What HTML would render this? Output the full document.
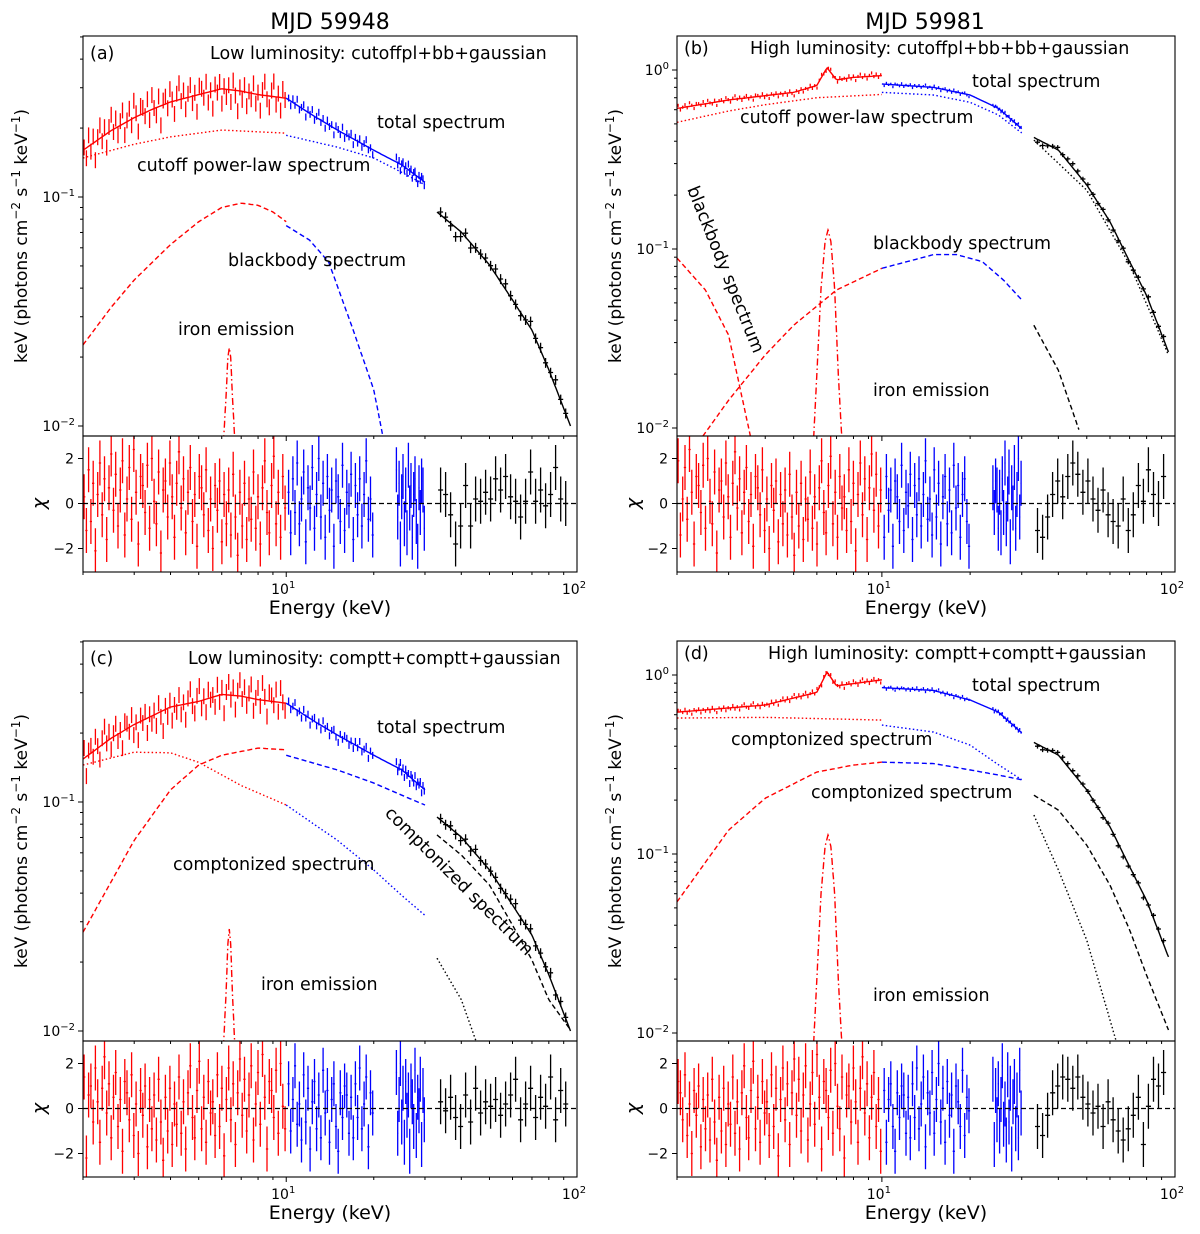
<!DOCTYPE html>
<html><head><meta charset="utf-8">
<style>
html,body{margin:0;padding:0;background:#fff;}
svg{display:block;font-family:"DejaVu Sans","Liberation Sans",sans-serif;}
</style></head>
<body>
<svg id="fig" xmlns="http://www.w3.org/2000/svg" width="1200" height="1234" viewBox="0 0 1200 1234"></svg>
<script>
// ---------- DATA (energy keV, flux) ----------
const A_tot_red=[[2,0.16],[2.5,0.195],[3,0.222],[3.5,0.243],[4,0.26],[5,0.28],[6,0.297],[7,0.29],[8,0.28],[10,0.27]];
const A_tot_blue=[[10,0.27],[12.5,0.225],[15,0.196],[20,0.16],[25,0.138],[30,0.116]];
const A_tot_black=[[33,0.086],[40,0.0703],[50,0.0505],[60,0.0355],[70,0.0262],[80,0.0176],[95,0.01]];
const A_cpl_red=[[2,0.148],[3,0.17],[4,0.183],[6,0.196],[10,0.19]];
const A_cpl_blue=[[10,0.186],[15,0.165],[20,0.148],[25,0.128],[30,0.113]];
const A_bb_red=[[2,0.0226],[2.5,0.033],[3,0.0434],[4,0.062],[5,0.078],[6,0.09],[7,0.094],[8,0.092],[9,0.086],[10,0.078]];
const A_bb_blue=[[10,0.075],[12,0.065],[14,0.052],[17,0.0262],[20,0.0144],[21.5,0.009]];
const A_fe=[[6.08,0.0085],[6.2,0.013],[6.3,0.02],[6.37,0.022],[6.44,0.02],[6.54,0.013],[6.66,0.0085]];

const B_tot_red=[[2,0.61],[3,0.68],[5,0.75],[6,0.82],[6.5,1.03],[7,0.88],[8,0.91],[10,0.93]];
const B_tot_blue=[[10,0.835],[15,0.8],[20,0.725],[25,0.61],[30,0.47]];
const B_tot_black=[[33,0.42],[40,0.357],[50,0.228],[60,0.142],[70,0.085],[80,0.055],[95,0.0266]];
const B_cpl_red=[[2,0.51],[3,0.59],[4,0.64],[6,0.7],[10,0.73]];
const B_cpl_blue=[[10,0.75],[15,0.725],[20,0.66],[25,0.56],[30,0.445]];
const B_cpl_black=[[33,0.406],[50,0.213],[70,0.082],[95,0.0256]];
const B_bb1_red=[[2,0.089],[2.5,0.059],[3,0.033],[3.56,0.009]];
const B_bb2_red=[[2.45,0.009],[3,0.0143],[4,0.0256],[5,0.0375],[7,0.059],[10,0.078]];
const B_bb2_blue=[[10,0.078],[15,0.093],[18,0.093],[22,0.085],[26,0.067],[30,0.052]];
const B_bb2_black=[[33,0.0375],[40,0.021],[47,0.0098]];
const B_fe=[[5.85,0.0088],[6.0,0.02],[6.2,0.06],[6.4,0.11],[6.55,0.128],[6.7,0.11],[6.9,0.06],[7.1,0.02],[7.3,0.0088]];

const C_tot_red=[[2,0.154],[2.5,0.19],[3,0.218],[4,0.26],[5,0.275],[6,0.295],[7,0.29],[8,0.28],[10,0.27]];
const C_tot_blue=[[10,0.27],[12.5,0.225],[15,0.196],[20,0.16],[25,0.138],[30,0.113]];
const C_tot_black=[[33,0.086],[40,0.0703],[50,0.0505],[60,0.0355],[70,0.0262],[80,0.0176],[95,0.01]];
const C_c1_red=[[2,0.145],[3,0.165],[4,0.164],[5,0.149],[7,0.118],[10,0.097]];
const C_c1_blue=[[10,0.097],[15,0.068],[20,0.0505],[25,0.039],[30,0.032]];
const C_c1_black=[[33,0.0208],[40,0.0137],[45,0.009]];
const C_c2_red=[[2,0.027],[3,0.068],[4,0.113],[5,0.145],[6,0.16],[8,0.172],[10,0.169]];
const C_c2_blue=[[10,0.16],[15,0.138],[20,0.121],[25,0.107],[30,0.097]];
const C_c2_black=[[33,0.0718],[40,0.0587],[50,0.0434],[60,0.029],[70,0.0204],[80,0.0137],[95,0.0101]];
const C_fe=[[6.08,0.0085],[6.2,0.014],[6.3,0.024],[6.37,0.028],[6.44,0.024],[6.54,0.014],[6.66,0.0085]];

const D_tot_red=[[2,0.62],[4,0.68],[6,0.8],[6.5,1.04],[7,0.87],[10,0.94]];
const D_tot_blue=[[10,0.85],[15,0.82],[20,0.725],[25,0.62],[30,0.475]];
const D_tot_black=[[33,0.42],[40,0.357],[50,0.228],[60,0.142],[70,0.085],[80,0.055],[95,0.0266]];
const D_c1_red=[[2,0.575],[4,0.58],[10,0.56]];
const D_c1_blue=[[10,0.525],[15,0.48],[20,0.406],[25,0.315],[30,0.26]];
const D_c1_black=[[33,0.165],[40,0.0815],[50,0.033],[63,0.009]];
const D_c2_red=[[2,0.054],[3,0.136],[4,0.205],[6,0.287],[8,0.314],[10,0.326]];
const D_c2_blue=[[10,0.326],[15,0.32],[20,0.295],[25,0.276],[30,0.26]];
const D_c2_black=[[33,0.213],[40,0.176],[50,0.112],[60,0.067],[70,0.0377],[80,0.021],[95,0.0104]];
const D_fe=[[5.85,0.0088],[6.0,0.02],[6.2,0.06],[6.4,0.11],[6.55,0.128],[6.7,0.11],[6.9,0.06],[7.1,0.02],[7.3,0.0088]];

// residuals (chi)
const RES_red=[0.3,-1.2,1.5,-0.8,0.9,-2.1,0.4,1.8,-0.5,1.1,-1.6,0.7,2.2,-0.3,1.3,-1.0,0.6,1.9,-1.4,0.2,1.6,-0.7,2.4,0.5,-1.8,1.2,0.8,-0.4,1.7,-1.1,2.0,0.1,-0.9,1.4,-2.2,0.6,1.0,-0.6,1.8,0.3,-1.5,0.9,2.3,-0.2,1.1,-1.3,0.5,1.6,-0.8,0.4,-1.9,1.2,0.7,-0.5,1.5,-1.2,0.2,-2.0,0.8,-0.3,1.0,-1.7,0.4,-0.9,0.6,-1.4,1.3,-0.6,-2.3,0.5,-1.0,0.9,-1.6,0.2,-0.7,1.4,-1.1,0.3,-1.8,0.7,1.9,-0.4,-1.3,0.8,2.1,-0.9,0.5,-1.5,1.2,-0.2];
const RES_blue=[0.5,-1.3,1.1,-0.4,1.8,-0.9,0.2,1.4,-1.7,0.7,-0.2,1.6,-1.1,0.4,2.0,-0.6,0.9,-1.5,1.2,-0.3,0.6,-1.9,1.0,0.3,-0.8,1.7,-1.2,0.5,-0.1,1.3,-1.6,0.8,-0.5,1.1,-1.0,0.4,1.9,-0.7,0.2,-1.4,1.5,-0.6,0.9,-1.8,0.3,1.2,-0.9,0.6,-1.3,1.7,-0.2,0.8,-1.5,0.4,1.1,-0.8,-1.9,0.7,-0.4,1.0,0.6,-1.1];
const RES_black_a=[2.0,0.6,0.4,-0.5,-1.8,-1.0,0.8,-1.0,0.2,0.1,0.5,0.2,1.1,0.6,1.2,0.3,0.1,-0.6,0.1,1.4,0.1,0.6,-0.1,0.4,1.6,0.2,0.0,0.3];
const RES_black_b=[-0.4,-1.2,-1.5,-0.6,0.4,1.0,0.3,1.2,1.8,1.3,0.5,1.0,0.2,-0.3,0.6,-0.5,-0.8,-1.0,0.2,-1.2,-0.5,0.8,0.1,1.5,0.4,0.0,1.2,0.7];
const RES_black_c=[1.2,0.3,-0.1,0.5,-0.4,-0.8,0.6,-0.6,0.9,-0.2,0.3,0.1,0.4,-0.3,0.2,0.6,1.3,-0.5,0.2,0.9,-0.4,0.5,0.1,1.4,-0.5,0.8,0.2,-0.3];
const RES_black_d=[-0.6,-0.8,-1.2,-0.3,0.7,1.0,1.4,1.3,0.9,1.4,0.5,0.2,-0.2,0.1,-0.8,0.3,-0.5,-1.0,-1.4,-0.9,-0.3,0.5,-1.6,0.1,1.3,1.0,1.6,0.8];
const YTICKS_a=[-2,-1]; const YTICKS_b=[-2,-1,0];
const RTICKS=[-2,0,2];

const NS="http://www.w3.org/2000/svg";
const svg=document.getElementById('fig');
function mk(tag,attrs,parent){const e=document.createElementNS(NS,tag);for(const k in attrs)e.setAttribute(k,attrs[k]);(parent||svg).appendChild(e);return e;}
function interp(arr,E){
  if(E<arr[0][0]-1e-9||E>arr[arr.length-1][0]+1e-9)return null;
  for(let i=0;i<arr.length-1;i++){const a=arr[i],b=arr[i+1];
    if(E>=a[0]&&E<=b[0]){const t=(Math.log(E)-Math.log(a[0]))/(Math.log(b[0])-Math.log(a[0]));
      return Math.exp(Math.log(a[1])+t*(Math.log(b[1])-Math.log(a[1])));}}
  return arr[arr.length-1][1];
}
const DASH={solid:null,dotted:"1.5,2.4",dashed:"5,3",dashdot:"7,3,1.5,3"};
const COL={red:"#ff0000",blue:"#0000ff",black:"#000000"};

function panel(P){
  const g=mk('g',{});
  
  
  const L=P.L,R=P.R,T=P.T,MB=P.MB,RB=P.RB;
  const xs=E=>L+(Math.log10(E)-Math.log10(2))/(2-Math.log10(2))*(R-L);
  const ys=v=>P.refY-(Math.log10(v)-P.refLog)*P.ppd;
  const rmid=(MB+RB)/2-0.5;
  const rs=r=>rmid-r*22.5;
  const cid='clip'+P.id, rcid='rclip'+P.id;
  const cp=mk('clipPath',{id:cid},g); mk('rect',{x:L,y:T,width:R-L,height:MB-T},cp);
  const rcp=mk('clipPath',{id:rcid},g); mk('rect',{x:L,y:MB,width:R-L,height:RB-MB},rcp);
  const mainG=mk('g',{'clip-path':`url(#${cid})`},g);
  const resG=mk('g',{'clip-path':`url(#${rcid})`},g);
  P.curves.forEach(c=>{
    const arr=c.d;const e0=arr[0][0],e1=arr[arr.length-1][0];let pts=[];
    const n=120;for(let i=0;i<=n;i++){const E=Math.exp(Math.log(e0)+(Math.log(e1)-Math.log(e0))*i/n);const v=interp(arr,E);pts.push(xs(E).toFixed(1)+','+ys(v).toFixed(1));}
    const pl=mk('polyline',{points:pts.join(' '),fill:'none',stroke:COL[c.col],'stroke-width':c.w||1.4},mainG);
    if(DASH[c.ls])pl.setAttribute('stroke-dasharray',DASH[c.ls]);
    
    
  });
  function seg(col,arr,res,start,n,e0,e1,frac,cap){
    for(let i=0;i<n;i++){
      const la=Math.log(e0)+(Math.log(e1)-Math.log(e0))*i/n, lb=Math.log(e0)+(Math.log(e1)-Math.log(e0))*(i+1)/n;
      const Ea=Math.exp(la),Eb=Math.exp(lb),E=Math.exp((la+lb)/2);
      const m=interp(arr,E); if(m==null)continue;
      const r=res[(start+i)%res.length];
      const v=m*(1+r*frac), lo=v*(1-frac), hi=v*(1+frac);
      const x=xs(E);
      let p=mk('path',{d:`M${x.toFixed(1)},${ys(lo).toFixed(1)}V${ys(hi).toFixed(1)}`+(cap?`M${xs(Ea).toFixed(1)},${ys(v).toFixed(1)}H${xs(Eb).toFixed(1)}`:''),stroke:COL[col],'stroke-width':1.3,fill:'none'},mainG);
      
      
      let q=mk('path',{d:`M${x.toFixed(1)},${rs(r-1).toFixed(1)}V${rs(r+1).toFixed(1)}M${xs(Ea).toFixed(1)},${rs(r).toFixed(1)}H${xs(Eb).toFixed(1)}`,stroke:COL[col],'stroke-width':1.3,fill:'none'},resG);
      
      
    }
  }
  seg('red',P.red,RES_red,P.off,90,2,10,P.fr[0],false);
  seg('blue',P.blue,RES_blue,P.off,40,10.1,20,P.fr[1],false);
  seg('blue',P.blue,RES_blue,P.off+40,22,23.8,30,P.fr[1],false);
  seg('black',P.black,P.bres,0,28,32,97,P.fr[2],true);
  const zl=mk('line',{x1:L,x2:R,y1:rs(0),y2:rs(0),stroke:'#000','stroke-width':1.3,'stroke-dasharray':'5,3'},g);
  
  
  mk('rect',{x:L,y:T,width:R-L,height:MB-T,fill:'none',stroke:'#000','stroke-width':1.1},g);
  mk('rect',{x:L,y:MB,width:R-L,height:RB-MB,fill:'none',stroke:'#000','stroke-width':1.1},g);
  for(let d=0;d<=1;d++)for(let k=1;k<=9;k++){
    const E=k*Math.pow(10,d);if(E<2||E>100)continue;const x=xs(E);const maj=(k===1);
    mk('line',{x1:x,x2:x,y1:RB,y2:RB+(maj?5:3),stroke:'#000','stroke-width':1},g);
    mk('line',{x1:x,x2:x,y1:MB,y2:MB+(maj?5:3),stroke:'#000','stroke-width':1},g);
  }
  [1,2].forEach(p=>{const t=mk('text',{x:xs(Math.pow(10,p))-3,y:RB+22,'font-size':14,'text-anchor':'middle'},g);t.textContent='10';const s=mk('tspan',{dy:-6,'font-size':10},t);s.textContent=String(p);
    });
  for(let d=P.yd0;d<=P.yd1;d++)for(let k=1;k<=9;k++){
    const v=k*Math.pow(10,d);const y=ys(v);if(y<T||y>MB)continue;const maj=(k===1);
    mk('line',{x1:L,x2:L-(maj?5:3),y1:y,y2:y,stroke:'#000','stroke-width':1},g);
  }
  P.yt.forEach(p=>{const y=ys(Math.pow(10,p));if(y<T||y>MB)return;const t=mk('text',{x:L-8,y:y+5,'font-size':14,'text-anchor':'end'},g);
    t.textContent='10';const s=mk('tspan',{dy:-6,'font-size':10},t);s.textContent=(p<0?'\u2212'+(-p):String(p));
    });
  RTICKS.forEach(r=>{const y=rs(r);mk('line',{x1:L,x2:L-5,y1:y,y2:y,stroke:'#000','stroke-width':1},g);
    const t=mk('text',{x:L-9,y:y+5,'font-size':14,'text-anchor':'end'},g);t.textContent=r<0?'\u2212'+(-r):String(r);
    });
  const xl=mk('text',{x:(L+R)/2,y:RB+42,'font-size':19,'text-anchor':'middle'},g);xl.textContent='Energy (keV)';
  
  const cy=(T+MB)/2;const yl=mk('text',{x:0,y:0,'font-size':17,'text-anchor':'middle',transform:`translate(${L-56},${cy}) rotate(-90)`},g);
  yl.innerHTML='keV (photons cm<tspan dy="-7" font-size="12">\u22122</tspan><tspan dy="7"> s</tspan><tspan dy="-7" font-size="12">\u22121</tspan><tspan dy="7"> keV</tspan><tspan dy="-7" font-size="12">\u22121</tspan><tspan dy="7">)</tspan>';
  
  const ch=mk('text',{x:0,y:0,'font-size':19,'font-style':'italic','text-anchor':'middle',transform:`translate(${L-38},${rmid}) rotate(-90)`},g);ch.textContent='\u03c7';
  
  P.labels.forEach(lb=>{const t=mk('text',{x:lb[1],y:lb[2],'font-size':lb[4]||17.5},g);t.textContent=lb[0];
    if(lb[3])t.setAttribute('transform',`rotate(${lb[3]},${lb[1]},${lb[2]})`);
    
    });
}

const TOP=0,BOT=605;
panel({id:'a',L:83,R:577,T:36+TOP,MB:436+TOP,RB:572+TOP,refY:197+TOP,refLog:-1,ppd:229,yd0:-3,yd1:0,yt:YTICKS_a,off:0,fr:[0.08,0.035,0.05],
  red:A_tot_red,blue:A_tot_blue,black:A_tot_black,bres:RES_black_a,
  curves:[{d:A_tot_red,col:'red',ls:'solid',name:'total-model-red'},{d:A_tot_blue,col:'blue',ls:'solid',name:'total-model-blue'},{d:A_tot_black,col:'black',ls:'solid',name:'total-model-black'},
   {d:A_cpl_red,col:'red',ls:'dotted',name:'cutoffpl-red'},{d:A_cpl_blue,col:'blue',ls:'dotted',name:'cutoffpl-blue'},
   {d:A_bb_red,col:'red',ls:'dashed',name:'blackbody-red'},{d:A_bb_blue,col:'blue',ls:'dashed',name:'blackbody-blue'},
   {d:A_fe,col:'red',ls:'dashdot',name:'iron-line'}],
  labels:[['(a)',90,59],['Low luminosity: cutoffpl+bb+gaussian',210,59],['total spectrum',377,128],['cutoff power-law spectrum',137,171],['blackbody spectrum',228,266],['iron emission',178,335]]});
panel({id:'b',L:677,R:1175,T:36+TOP,MB:436+TOP,RB:572+TOP,refY:70+TOP,refLog:0,ppd:179,yd0:-3,yd1:0,yt:YTICKS_b,off:17,fr:[0.02,0.015,0.03],
  red:B_tot_red,blue:B_tot_blue,black:B_tot_black,bres:RES_black_b,
  curves:[{d:B_tot_red,col:'red',ls:'solid',name:'total-model-red'},{d:B_tot_blue,col:'blue',ls:'solid',name:'total-model-blue'},{d:B_tot_black,col:'black',ls:'solid',name:'total-model-black'},
   {d:B_cpl_red,col:'red',ls:'dotted',name:'cutoffpl-red'},{d:B_cpl_blue,col:'blue',ls:'dotted',name:'cutoffpl-blue'},{d:B_cpl_black,col:'black',ls:'dotted',name:'cutoffpl-black'},
   {d:B_bb1_red,col:'red',ls:'dashed',name:'blackbody-cool-red'},{d:B_bb2_red,col:'red',ls:'dashed',name:'blackbody-hot-red'},{d:B_bb2_blue,col:'blue',ls:'dashed',name:'blackbody-hot-blue'},{d:B_bb2_black,col:'black',ls:'dashed',name:'blackbody-hot-black'},
   {d:B_fe,col:'red',ls:'dashdot',name:'iron-line'}],
  labels:[['(b)',684,54],['High luminosity: cutoffpl+bb+bb+gaussian',750,54],['total spectrum',972,87],['cutoff power-law spectrum',740,123],['blackbody spectrum',873,249],['blackbody spectrum',687,189,68],['iron emission',873,396]]});
panel({id:'c',L:83,R:577,T:36+BOT,MB:436+BOT,RB:572+BOT,refY:197+BOT,refLog:-1,ppd:229,yd0:-3,yd1:0,yt:YTICKS_a,off:33,fr:[0.08,0.035,0.05],
  red:C_tot_red,blue:C_tot_blue,black:C_tot_black,bres:RES_black_c,
  curves:[{d:C_tot_red,col:'red',ls:'solid',name:'total-model-red'},{d:C_tot_blue,col:'blue',ls:'solid',name:'total-model-blue'},{d:C_tot_black,col:'black',ls:'solid',name:'total-model-black'},
   {d:C_c1_red,col:'red',ls:'dotted',name:'comptt1-red'},{d:C_c1_blue,col:'blue',ls:'dotted',name:'comptt1-blue'},{d:C_c1_black,col:'black',ls:'dotted',name:'comptt1-black'},
   {d:C_c2_red,col:'red',ls:'dashed',name:'comptt2-red'},{d:C_c2_blue,col:'blue',ls:'dashed',name:'comptt2-blue'},{d:C_c2_black,col:'black',ls:'dashed',name:'comptt2-black'},
   {d:C_fe,col:'red',ls:'dashdot',name:'iron-line'}],
  labels:[['(c)',90,664],['Low luminosity: comptt+comptt+gaussian',188,664],['total spectrum',377,733],['comptonized spectrum',173,870],['comptonized spectrum',384,814,45],['iron emission',261,990]]});
panel({id:'d',L:677,R:1175,T:36+BOT,MB:436+BOT,RB:572+BOT,refY:70+BOT,refLog:0,ppd:179,yd0:-3,yd1:0,yt:YTICKS_b,off:51,fr:[0.02,0.015,0.03],
  red:D_tot_red,blue:D_tot_blue,black:D_tot_black,bres:RES_black_d,
  curves:[{d:D_tot_red,col:'red',ls:'solid',name:'total-model-red'},{d:D_tot_blue,col:'blue',ls:'solid',name:'total-model-blue'},{d:D_tot_black,col:'black',ls:'solid',name:'total-model-black'},
   {d:D_c1_red,col:'red',ls:'dotted',name:'comptt1-red'},{d:D_c1_blue,col:'blue',ls:'dotted',name:'comptt1-blue'},{d:D_c1_black,col:'black',ls:'dotted',name:'comptt1-black'},
   {d:D_c2_red,col:'red',ls:'dashed',name:'comptt2-red'},{d:D_c2_blue,col:'blue',ls:'dashed',name:'comptt2-blue'},{d:D_c2_black,col:'black',ls:'dashed',name:'comptt2-black'},
   {d:D_fe,col:'red',ls:'dashdot',name:'iron-line'}],
  labels:[['(d)',684,659],['High luminosity: comptt+comptt+gaussian',768,659],['total spectrum',972,691],['comptonized spectrum',731,745],['comptonized spectrum',811,798],['iron emission',873,1001]]});
[['MJD 59948',330],['MJD 59981',925]].forEach(t=>{const e=mk('text',{x:t[1],y:29,'font-size':22,'text-anchor':'middle'});e.textContent=t[0];
  });
</script>
</body></html>
